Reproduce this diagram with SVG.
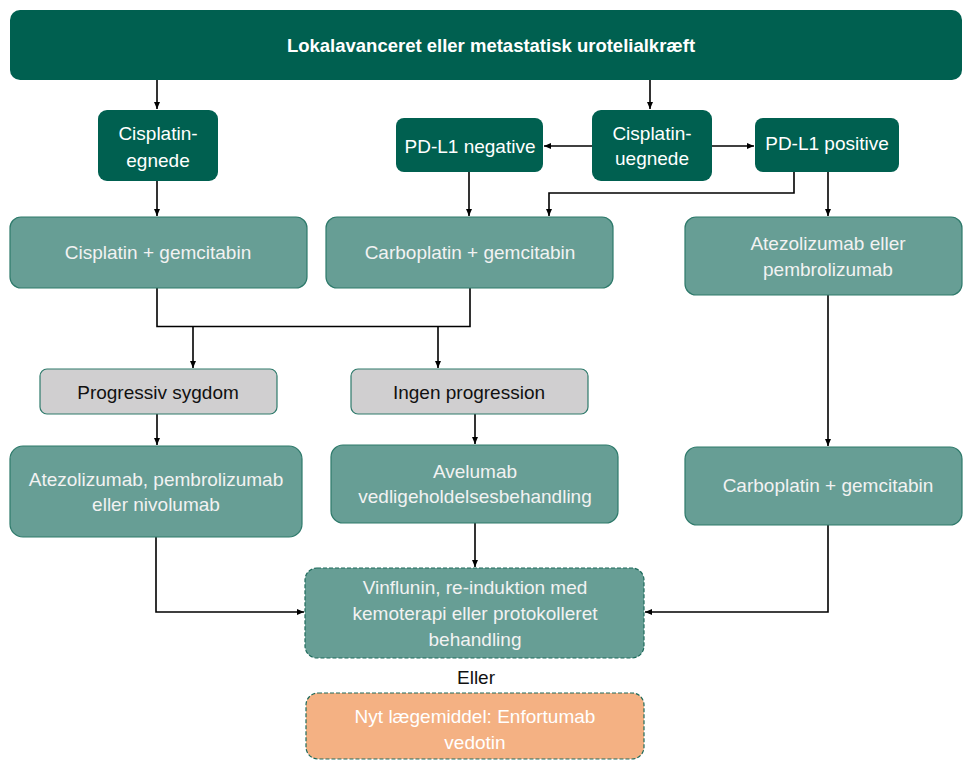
<svg xmlns="http://www.w3.org/2000/svg" width="964" height="762" viewBox="0 0 964 762">
<style>
.dk{fill:#006050;stroke:none}
.md{fill:#679E95;stroke:#2E7A6B;stroke-width:1.2}
.gr{fill:#D0CFD0;stroke:#2E7A6B;stroke-width:1.2}
.vn{fill:#679E95;stroke:#1E6B5C;stroke-width:1.2;stroke-dasharray:4 2}
.or{fill:#F4B183;stroke:#1E6B5C;stroke-width:1.2;stroke-dasharray:4 2}
text{font-family:"Liberation Sans",Arial,sans-serif;font-size:19px;text-anchor:middle}
.w{fill:#FFFFFF}
.lw{fill:#F2F2F2}
.b{fill:#111111}
.t{font-weight:bold;font-size:18.5px}
.c{fill:none;stroke:#000;stroke-width:1.6}
</style>
<defs>
<marker id="ah" markerWidth="8" markerHeight="8" refX="7" refY="4" orient="auto" markerUnits="userSpaceOnUse">
<path d="M0,1 L7,4 L0,7 Z" fill="#000"/>
</marker>
</defs>
<g id="connectors">
<path class="c" d="M157,80 V109" marker-end="url(#ah)"/>
<path class="c" d="M650,80 V109" marker-end="url(#ah)"/>
<path class="c" d="M592,146 H544" marker-end="url(#ah)"/>
<path class="c" d="M712,146 H754" marker-end="url(#ah)"/>
<path class="c" d="M157,181 V216" marker-end="url(#ah)"/>
<path class="c" d="M469,172 V216" marker-end="url(#ah)"/>
<path class="c" d="M794,172 V193 H549 V216" marker-end="url(#ah)"/>
<path class="c" d="M828,172 V216" marker-end="url(#ah)"/>
<path class="c" d="M157,288 V326.5 H470 V288"/>
<path class="c" d="M193,326.5 V368" marker-end="url(#ah)"/>
<path class="c" d="M438,326.5 V368" marker-end="url(#ah)"/>
<path class="c" d="M157,414 V445" marker-end="url(#ah)"/>
<path class="c" d="M475,414 V444" marker-end="url(#ah)"/>
<path class="c" d="M828,295 V446" marker-end="url(#ah)"/>
<path class="c" d="M475,523 V567" marker-end="url(#ah)"/>
<path class="c" d="M156,537 V612 H304" marker-end="url(#ah)"/>
<path class="c" d="M828,525 V612 H645" marker-end="url(#ah)"/>
</g>
<g id="n-top"><rect class="dk" x="10" y="10" width="952" height="70" rx="10"/><text class="w t" x="491" y="52">Lokalavanceret eller metastatisk urotelialkræft</text></g>
<g id="n-egnede"><rect class="dk" x="98" y="110" width="120" height="71" rx="9"/><text class="w" x="158" y="140">Cisplatin-</text><text class="w" x="158" y="167">egnede</text></g>
<g id="n-uegnede"><rect class="dk" x="592" y="110" width="120" height="71" rx="9"/><text class="w" x="652" y="140">Cisplatin-</text><text class="w" x="652" y="165">uegnede</text></g>
<g id="n-pdneg"><rect class="dk" x="396" y="118" width="147" height="54" rx="8"/><text class="w" x="470" y="153">PD-L1 negative</text></g>
<g id="n-pdpos"><rect class="dk" x="755" y="118" width="144" height="54" rx="8"/><text class="w" x="827" y="150">PD-L1 positive</text></g>
<g id="n-cisgem"><rect class="md" x="10" y="217" width="297" height="71" rx="11"/><text class="lw" x="158" y="259">Cisplatin + gemcitabin</text></g>
<g id="n-carbogem1"><rect class="md" x="326" y="217" width="287" height="71" rx="11"/><text class="lw" x="470" y="259">Carboplatin + gemcitabin</text></g>
<g id="n-atezo1"><rect class="md" x="685" y="217" width="277" height="78" rx="11"/><text class="lw" x="828" y="250">Atezolizumab eller</text><text class="lw" x="828" y="276">pembrolizumab</text></g>
<g id="n-prog"><rect class="gr" x="40" y="369" width="237" height="45" rx="7"/><text class="b" x="158" y="399">Progressiv sygdom</text></g>
<g id="n-ingen"><rect class="gr" x="351" y="369" width="237" height="45" rx="7"/><text class="b" x="469" y="399">Ingen progression</text></g>
<g id="n-atezo2"><rect class="md" x="10" y="446" width="292" height="91" rx="13"/><text class="lw" x="156" y="486">Atezolizumab, pembrolizumab</text><text class="lw" x="156" y="511">eller nivolumab</text></g>
<g id="n-avel"><rect class="md" x="331" y="445" width="287" height="78" rx="12"/><text class="lw" x="475" y="478">Avelumab</text><text class="lw" x="475" y="503">vedligeholdelsesbehandling</text></g>
<g id="n-carbogem2"><rect class="md" x="685" y="447" width="277" height="78" rx="12"/><text class="lw" x="828" y="492">Carboplatin + gemcitabin</text></g>
<g id="n-vinf"><rect class="vn" x="305" y="568" width="339" height="90" rx="12"/><text class="lw" x="475" y="594">Vinflunin, re-induktion med</text><text class="lw" x="475" y="620">kemoterapi eller protokolleret</text><text class="lw" x="475" y="646">behandling</text></g>
<g id="t-eller"><text class="b" x="476" y="684">Eller</text></g>
<g id="n-nyt"><rect class="or" x="306" y="693" width="338" height="66" rx="12"/><text class="w" x="475" y="723">Nyt lægemiddel: Enfortumab</text><text class="w" x="475" y="749">vedotin</text></g>
</svg>
